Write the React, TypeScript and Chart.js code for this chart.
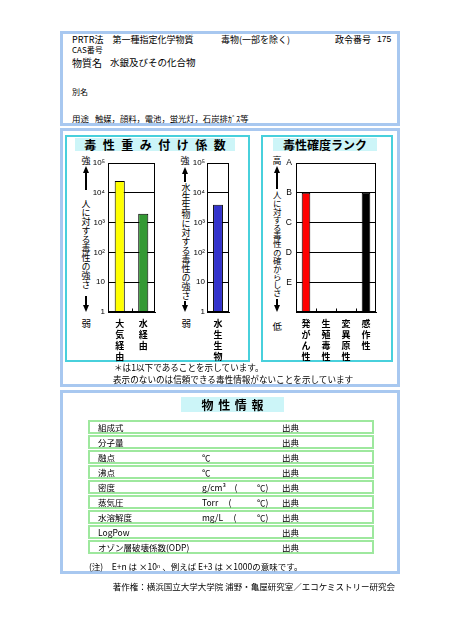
import React, { useEffect, useRef } from 'react';
import { Chart, registerables } from 'chart.js';

Chart.register(...registerables);

// ---- data ----
const humanCategories = [['大', '気', '経', '由'], ['水', '経', '由']];
const humanValues = [25000, 2000];
const humanColors = ['#ffff00', '#339933'];

const aquaCategories = [['水', '生', '生', '物']];
const aquaValues = [4000];
const aquaColors = ['#3333cc'];

const rankCategories = [['発', 'が', 'ん', '性'], ['生', '殖', '毒', '性'], ['変', '異', '原', '性'], ['感', '作', '性']];
const rankValues: (number | null)[] = [4, null, null, 4];
const rankColors = ['#ff0000', '#888888', '#888888', '#000000'];

const logTickValues = [1, 10, 100, 1000, 10000, 100000];
const logTickLabels = ['1', '10', '10²', '10³', '10⁴', '10⁵'];
const rankTickValues = [0, 1, 2, 3, 4, 5];
const rankTickLabels = ['', 'E', 'D', 'C', 'B', 'A'];

const propRows = [
  ['組成式', '', '', '出典'],
  ['分子量', '', '', '出典'],
  ['融点', '℃', '', '出典'],
  ['沸点', '℃', '', '出典'],
  ['密度', 'g/cm³　(', '℃)', '出典'],
  ['蒸気圧', 'Torr　 (', '℃)', '出典'],
  ['水溶解度', 'mg/L　 (', '℃)', '出典'],
  ['LogPow', '', '', '出典'],
  ['オゾン層破壊係数(ODP)', '', '', '出典'],
];

const JP = '"Noto Sans CJK JP", "Noto Sans", sans-serif';
const NUM = '"Liberation Sans", Arial, sans-serif';

const framePlugin = {
  id: 'frame',
  afterDraw(chart: any) {
    const { ctx, chartArea: a, scales } = chart;
    ctx.save();
    ctx.strokeStyle = '#000';
    ctx.lineWidth = 1;
    const l = Math.round(a.left) + 0.5;
    const t = Math.round(a.top) + 0.5;
    const r = Math.round(a.right) - 0.5;
    const b = Math.round(a.bottom) - 0.5;
    ctx.strokeRect(l, t, r - l, b - t);
    const xs = scales.x;
    const n = xs.ticks.length;
    for (let i = 1; i < n; i++) {
      const px = Math.round((xs.getPixelForValue(i - 1) + xs.getPixelForValue(i)) / 2) + 0.5;
      ctx.beginPath();
      ctx.moveTo(px, b);
      ctx.lineTo(px, b - 3);
      ctx.stroke();
    }
    ctx.restore();
  },
};

type ChartProps = {
  left: number; top: number; width: number; height: number;
  labels: any[]; values: any[]; colors: string[];
  kind: 'log' | 'rank'; yWidth: number; rightPad: number; barPct: number; yPad: number;
};

function BarChart(p: ChartProps) {
  const ref = useRef<HTMLCanvasElement>(null);
  useEffect(() => {
    if (!ref.current) return;
    const yScale: any =
      p.kind === 'log'
        ? {
            type: 'logarithmic', min: 1, max: 100000,
            afterBuildTicks: (s: any) => { s.ticks = logTickValues.map((v) => ({ value: v })); },
            ticks: { callback: (_v: any, i: number) => logTickLabels[i], autoSkip: false },
          }
        : {
            type: 'linear', min: 0, max: 5,
            afterBuildTicks: (s: any) => { s.ticks = rankTickValues.map((v) => ({ value: v })); },
            ticks: { callback: (_v: any, i: number) => rankTickLabels[i], autoSkip: false },
          };
    yScale.afterFit = (s: any) => { s.width = p.yWidth; };
    yScale.ticks.font = { family: NUM, size: p.kind === 'log' ? 8 : 8.5 };
    yScale.ticks.color = '#000';
    yScale.ticks.padding = p.yPad;
    yScale.grid = { color: '#000', lineWidth: 1, drawTicks: false };
    yScale.border = { display: true, color: '#000', width: 1 };

    const chart = new Chart(ref.current, {
      type: 'bar',
      data: {
        labels: p.labels,
        datasets: [{
          data: p.values,
          backgroundColor: p.colors,
          borderColor: '#000',
          borderWidth: 1,
          barPercentage: p.barPct,
          categoryPercentage: 1,
        }],
      },
      options: {
        responsive: false,
        animation: false,
        devicePixelRatio: 1,
        layout: { padding: { top: 13, right: p.rightPad, left: 0, bottom: 0 } },
        plugins: { legend: { display: false }, tooltip: { enabled: false } },
        scales: {
          x: {
            type: 'category',
            offset: true,
            grid: { display: false, drawTicks: false },
            border: { display: true, color: '#000', width: 1 },
            ticks: {
              font: { family: JP, size: 9, weight: 'bold', lineHeight: '11px' },
              color: '#000', padding: 6, maxRotation: 0, minRotation: 0, autoSkip: false,
            },
            afterFit: (s: any) => { s.height = 53; },
          },
          y: yScale,
        },
      } as any,
      plugins: [framePlugin],
    });
    return () => chart.destroy();
  }, []);
  return (
    <canvas
      ref={ref}
      width={p.width}
      height={p.height}
      style={{ position: 'absolute', left: p.left, top: p.top, width: p.width, height: p.height }}
    />
  );
}

function Txt({ x, cy, size, children, bold, ls, family, right }: any) {
  const st: any = {
    position: 'absolute', top: cy - size / 2, fontSize: size, lineHeight: `${size}px`,
    whiteSpace: 'nowrap', fontWeight: bold ? 700 : 400, letterSpacing: ls || 0,
    fontFamily: family || JP, color: '#000',
  };
  if (right !== undefined) st.right = right; else st.left = x;
  return <div style={st}>{children}</div>;
}

function VText({ cx, top, size, ls, children }: any) {
  return (
    <div style={{
      position: 'absolute', left: cx - size / 2, top, fontSize: size, lineHeight: `${size}px`,
      writingMode: 'vertical-rl', letterSpacing: ls || 0, fontFamily: JP, color: '#000', whiteSpace: 'nowrap',
    }}>{children}</div>
  );
}

function Arrow({ x, y1, y2, dir }: any) {
  const head = 7;
  return (
    <>
      <div style={{
        position: 'absolute', left: x - 0.75, top: dir === 'up' ? y1 + head - 1 : y1,
        width: 1.5, height: y2 - y1 - head + 1, background: '#000',
      }} />
      <div style={{
        position: 'absolute', left: x - 3, top: dir === 'up' ? y1 : y2 - head,
        width: 0, height: 0, borderLeft: '3px solid transparent', borderRight: '3px solid transparent',
        ...(dir === 'up' ? { borderBottom: `${head}px solid #000` } : { borderTop: `${head}px solid #000` }),
      }} />
    </>
  );
}

const BLUE = '#a8c8f0';
const CYAN = '#48d0dc';
const BAND = '#ccf5f8';
const GREEN = '#9ee89e';

function Box({ l, t, w, h, color, bw }: any) {
  return <div style={{ position: 'absolute', left: l, top: t, width: w, height: h, boxSizing: 'border-box', border: `${bw}px solid ${color}` }} />;
}

function Band({ l, t, w, h, text, size, ls }: any) {
  return (
    <div style={{
      position: 'absolute', left: l, top: t, width: w, height: h, background: BAND,
      display: 'flex', alignItems: 'center', justifyContent: 'center',
      fontFamily: JP, fontWeight: 700, fontSize: size, letterSpacing: ls || 0, paddingLeft: ls || 0,
      boxSizing: 'border-box', lineHeight: `${h}px`, whiteSpace: 'nowrap', color: '#000',
    }}>{text}</div>
  );
}

export default function App() {
  return (
    <div style={{ position: 'absolute', left: 0, top: 0, width: 452, height: 640, background: '#fff', overflow: 'hidden' }}>
      {/* Box 1 */}
      <Box l={60} t={31} w={340} h={95} color={BLUE} bw={3} />
      <Txt x={72} cy={39} size={9}>PRTR法　第一種指定化学物質</Txt>
      <Txt x={221} cy={39} size={9}>毒物(一部を除く)</Txt>
      <Txt x={335} cy={39} size={9}>政令番号</Txt>
      <Txt x={377} cy={39} size={8.5} family={NUM}>175</Txt>
      <Txt x={72} cy={50} size={8}>CAS番号</Txt>
      <Txt x={72} cy={63} size={10}>物質名</Txt>
      <Txt x={110} cy={63} size={9.5}>水銀及びその化合物</Txt>
      <Txt x={72} cy={92} size={8}>別名</Txt>
      <Txt x={72} cy={118} size={8.5}>用途</Txt>
      <Txt x={95} cy={118} size={8.3}>触媒，顔料，電池，蛍光灯，石炭排ｶﾞｽ等</Txt>

      {/* Box 2 */}
      <Box l={60} t={128} w={340} h={259} color={BLUE} bw={3} />
      <Box l={65} t={135} w={185} h={227} color={CYAN} bw={2} />
      <Box l={261} t={135} w={132} h={227} color={CYAN} bw={2} />
      <Band l={75} t={138} w={160} h={13} text="毒性重み付け係数" size={12} ls={6.5} />
      <Band l={273} t={138} w={104} h={13} text="毒性確度ランク" size={12} />

      {/* left chart axis labels */}
      <Txt x={81.5} cy={160.5} size={9}>強</Txt>
      <Arrow x={86} y1={166} y2={190} dir="up" />
      <VText cx={86} top={199} size={9} ls={0}>人に対する毒性の強さ</VText>
      <Arrow x={86} y1={296} y2={312} dir="down" />
      <Txt x={81.5} cy={324} size={9.5}>弱</Txt>

      <Txt x={180.5} cy={160.5} size={9}>強</Txt>
      <Arrow x={185} y1={167} y2={182} dir="up" />
      <VText cx={186} top={183} size={9} ls={0}>水生生物に対する毒性の強さ</VText>
      <Arrow x={185} y1={301} y2={312} dir="down" />
      <Txt x={181.5} cy={324} size={9.5}>弱</Txt>

      <Txt x={272.5} cy={160.5} size={9}>高</Txt>
      <Arrow x={277} y1={166} y2={189} dir="up" />
      <VText cx={277} top={191} size={8.5} ls={-0.35}>人に対する毒性の確からしさ</VText>
      <Arrow x={277} y1={299} y2={312} dir="down" />
      <Txt x={272.5} cy={327} size={9.5}>低</Txt>

      <BarChart left={90} top={150} width={70} height={215} labels={humanCategories} values={humanValues}
        colors={humanColors} kind="log" yWidth={18} rightPad={5} barPct={0.43} yPad={3} />
      <BarChart left={190} top={150} width={45} height={215} labels={aquaCategories} values={aquaValues}
        colors={aquaColors} kind="log" yWidth={17} rightPad={6} barPct={0.45} yPad={2} />
      <BarChart left={280} top={150} width={100} height={215} labels={rankCategories} values={rankValues}
        colors={rankColors} kind="rank" yWidth={16} rightPad={4} barPct={0.43} yPad={4} />

      <Txt x={114} cy={367} size={8.6}>＊は1以下であることを示しています。</Txt>
      <Txt x={113} cy={379} size={8.6}>表示のないのは信頼できる毒性情報がないことを示しています</Txt>

      {/* Box 3 */}
      <Box l={60} t={390} w={340} h={184} color={BLUE} bw={3} />
      <Band l={181} t={397} w={103} h={15} text="物性情報" size={12} ls={4.7} />
      {propRows.map((r, i) => {
        const top = 420 + 15 * i;
        return (
          <React.Fragment key={i}>
            <Box l={88} t={top} w={286} h={14} color={GREEN} bw={2} />
            <Txt x={98} cy={top + 7} size={8.5}>{r[0]}</Txt>
            {r[1] ? <Txt x={202} cy={top + 7} size={8.5}>{r[1]}</Txt> : null}
            {r[2] ? <Txt x={257} cy={top + 7} size={8.5}>{r[2]}</Txt> : null}
            <Txt x={282} cy={top + 7} size={8.5}>{r[3]}</Txt>
          </React.Fragment>
        );
      })}
      <Txt x={89} cy={566} size={8.5}>(注)　E+n は ×10ⁿ 、例えば E+3 は ×1000の意味です。</Txt>
      <Txt right={57} cy={586} size={8.5}>著作権：横浜国立大学大学院 浦野・亀屋研究室／エコケミストリー研究会</Txt>
    </div>
  );
}
